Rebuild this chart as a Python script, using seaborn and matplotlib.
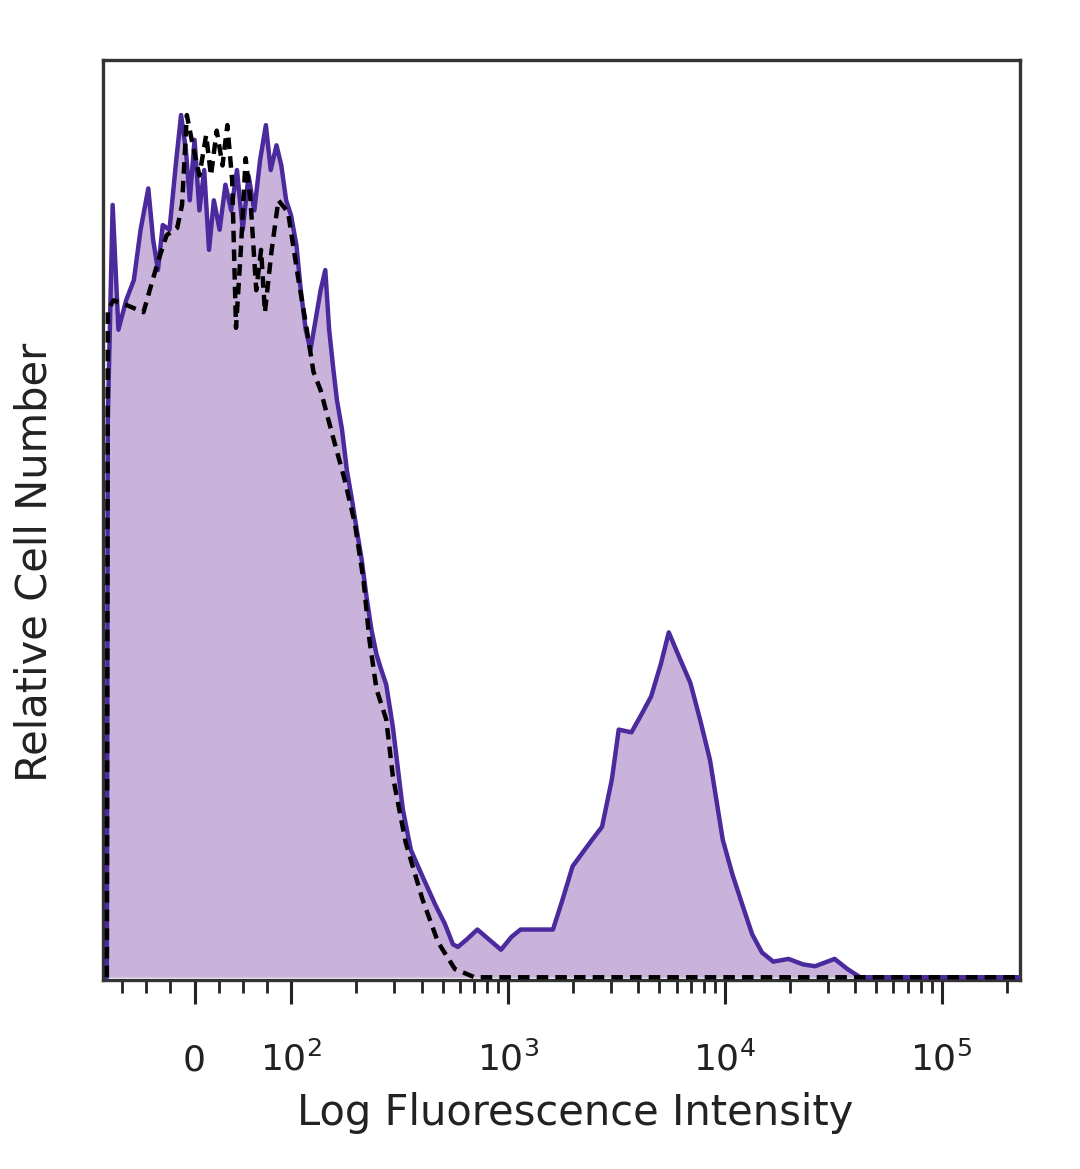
import pandas as pd
import matplotlib.pyplot as plt
import matplotlib.ticker as mticker
import seaborn as sns

# Stained sample (filled histogram); x = fluorescence intensity, y = relative count (% of frame)
stained_x = [-91, -90, -85, -79, -71, -63, -56, -48, -43, -38, -33, -26, -19, -14, -9, -5,
             0, 5, 10, 15, 20, 26, 32, 38, 44, 50, 56, 62, 68, 74, 79, 85, 90, 95,
             100, 106, 111, 117, 123, 130, 137, 144, 150, 157, 163, 172, 181, 191, 201,
             212, 223, 235, 248, 261, 275, 295, 328, 357, 404, 463, 513, 558, 588, 645,
             724, 820, 930, 1040, 1145, 1615, 1790, 1989, 2449, 2719, 3020, 3246, 3716,
             4120, 4577, 5070, 5523, 6250, 6944, 7700, 8553, 9795, 10860, 12063, 13380,
             14857, 16760, 19686, 22990, 26090, 32131, 36784, 42116, 230000]
stained_y = [0, 60.8, 84.2, 70.6, 73.8, 76.0, 81.5, 86.0, 80.4, 77.1, 82.0, 81.5, 89.1, 94.0, 90.2, 84.7,
             91.3, 83.6, 88.0, 79.3, 84.7, 81.5, 86.4, 83.6, 88.0, 81.5, 87.4, 83.6, 89.1, 92.9, 88.0, 90.7, 88.5, 84.7,
             83.1, 79.8, 74.9, 70.6, 68.4, 71.7, 74.9, 77.1, 70.6, 66.2, 62.9, 59.7, 55.3, 52.1, 48.8,
             45.5, 41.5, 37.9, 35.2, 33.5, 31.9, 27.3, 18.3, 13.9, 11.0, 7.9, 5.8, 3.6, 3.3, 4.1,
             5.2, 4.1, 3.0, 4.4, 5.2, 5.2, 8.5, 12.1, 15.0, 16.4, 21.6, 27.0, 26.7,
             28.6, 30.6, 34.1, 37.6, 34.6, 32.1, 28.1, 23.7, 15.0, 11.2, 7.9, 4.7,
             2.7, 1.7, 2.0, 1.4, 1.2, 2.0, 0.9, 0, 0]

# Isotype control (dashed outline)
isotype_x = [-91, -90, -84, -71, -53, -46, -38, -29, -18, -13, -8, -3, 5, 12, 17, 23, 29, 34, 39,
             43, 48, 53, 58, 64, 69, 73, 80, 87, 97, 108, 118, 127, 137, 153, 177, 197,
             216, 230, 248, 275, 295, 338, 404, 477, 570, 702, 230000]
isotype_y = [0, 72.7, 73.8, 73.3, 72.5, 75.1, 78.0, 80.9, 81.7, 84.2, 94.0, 91.3, 87.4, 91.8, 87.4, 92.3, 88.5, 92.9, 86.9,
             70.8, 79.3, 89.3, 84.7, 74.9, 79.3, 72.5, 79.3, 84.7, 83.4, 76.2, 70.8, 66.0, 64.0, 59.7, 54.2, 49.5,
             43.3, 36.8, 31.4, 28.1, 21.9, 14.7, 8.5, 3.8, 0.9, 0, 0]

tick_values = [0, 100, 1000, 10000, 100000]
tick_labels = ["0", "$10^2$", "$10^3$", "$10^4$", "$10^5$"]
minor_ticks = ([-75, -50, -25, 25, 50, 75]
               + [m * d for d in (100, 1000, 10000) for m in range(2, 10)] + [200000])

fill_color = "#c9b3db"
line_color = "#4a2a9c"
ink = "#222222"

sns.set_style("white")
plt.rcParams['font.family'] = ['DejaVu Sans']

stained = pd.DataFrame({"x": stained_x, "y": stained_y})
isotype = pd.DataFrame({"x": isotype_x, "y": isotype_y})

fig = plt.figure(figsize=(10.8, 11.69), dpi=100)
ax = fig.add_axes([103 / 1080, (1169 - 980) / 1169, 917 / 1080, 920 / 1169])
ax.set_xscale("symlog", linthresh=100, linscale=0.4)

ax.fill_between(stained["x"], stained["y"], color=fill_color, lw=0, zorder=1)
sns.lineplot(data=stained, x="x", y="y", color=line_color, lw=3.2, sort=False,
             estimator=None, ax=ax, zorder=3)
sns.lineplot(data=isotype, x="x", y="y", color="black", lw=3.2, sort=False,
             estimator=None, linestyle=(0, (2.6, 1.6)), ax=ax, zorder=4)

ax.set_xlim(-95, 2.3e5)
ax.set_ylim(-0.3, 100)

ax.set_xticks(tick_values, tick_labels)
ax.set_xticks(minor_ticks, minor=True)
ax.xaxis.set_minor_formatter(mticker.NullFormatter())
ax.set_yticks([])
ax.tick_params(axis="x", which="both", bottom=True)
ax.tick_params(axis="x", which="major", direction="out", length=17, width=2.2,
               color=ink, labelcolor=ink, labelsize=26, pad=48)
ax.tick_params(axis="x", which="minor", direction="out", length=9, width=2, color=ink)
for lbl in ax.get_xticklabels():
    lbl.set_verticalalignment("baseline")

for side in ["top", "bottom", "left", "right"]:
    ax.spines[side].set_visible(True)
    ax.spines[side].set_linewidth(2.4)
    ax.spines[side].set_color("#333333")

ax.set_xlabel("Log Fluorescence Intensity", fontsize=30, color=ink)
ax.set_ylabel("Relative Cell Number", fontsize=30, color=ink)
ax.xaxis.set_label_coords(0.515, -0.122)
ax.yaxis.set_label_coords(-0.052, 0.454)

fig.savefig("out.png", dpi=100)
